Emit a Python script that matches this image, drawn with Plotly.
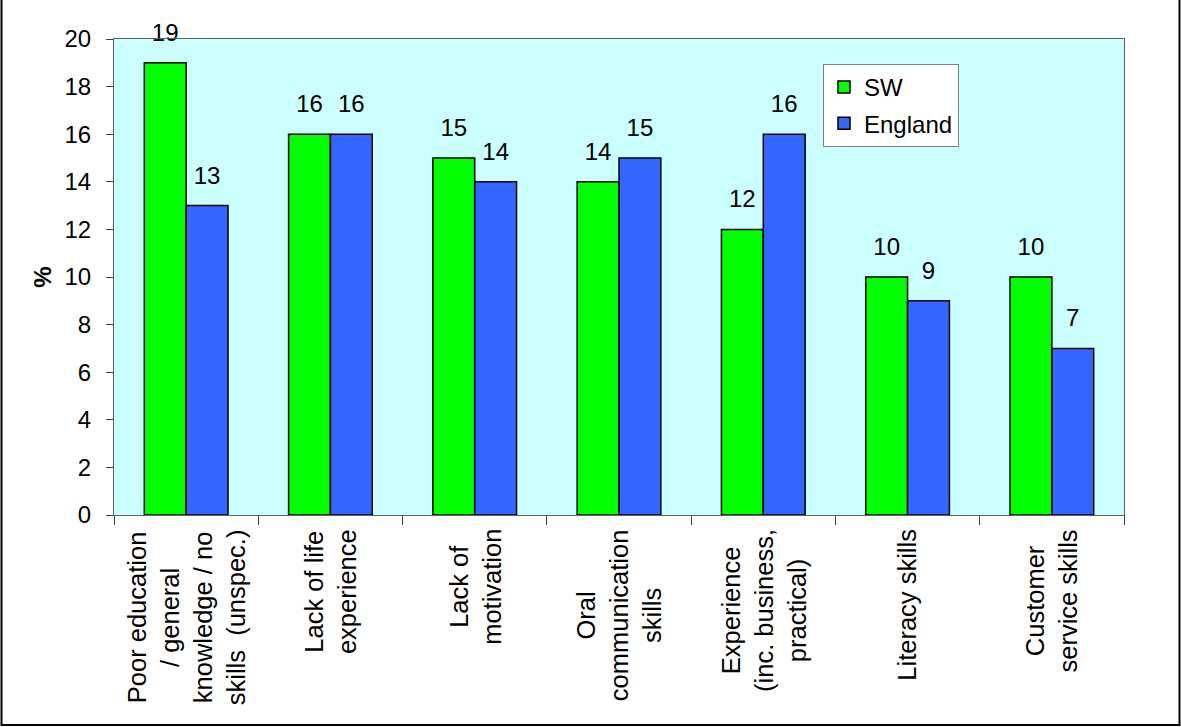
import plotly.graph_objects as go

categories = [
    "Poor education<br>/ general<br>knowledge / no<br>skills  (unspec.)",
    "Lack of life<br>experience",
    "Lack of<br>motivation",
    "Oral<br>communication<br>skills",
    "Experience<br>(inc. business,<br>practical)",
    "Literacy skills",
    "Customer<br>service skills",
]
sw_values = [19, 16, 15, 14, 12, 10, 10]
england_values = [13, 16, 14, 15, 16, 9, 7]
y_ticks = list(range(0, 21, 2))

FONT = "Liberation Sans, Arial, sans-serif"
FS = 24
x_idx = list(range(len(categories)))
boundaries = [i - 0.5 for i in range(len(categories) + 1)]

fig = go.Figure()
fig.add_trace(go.Bar(x=x_idx, y=sw_values, name="SW", marker=dict(color="#00FF00", line=dict(color="black", width=1.5)),
                     offsetgroup="sw", legendgroup="sw"))
fig.add_trace(go.Bar(x=x_idx, y=england_values, name="England", marker=dict(color="#3366FF", line=dict(color="black", width=1.5)),
                     offsetgroup="en", legendgroup="en"))
# value labels
for vals, grp in ((sw_values, "sw"), (england_values, "en")):
    fig.add_trace(go.Scatter(x=x_idx, y=vals, mode="markers+text", text=[str(v) for v in vals],
                             textposition="top center", marker=dict(size=24, color="rgba(0,0,0,0)"),
                             textfont=dict(size=FS, color="black", family=FONT), showlegend=False,
                             hoverinfo="skip", offsetgroup=grp, cliponaxis=False))

# category labels (rotated)
for i, lab in enumerate(categories):
    fig.add_annotation(x=i, xref="x", y=-0.0255, yref="paper", text=lab, textangle=-90,
                       showarrow=False, xanchor="center", yanchor="top", align="center",
                       font=dict(size=25.5, color="black", family=FONT))

L, R, T, B = 114, 57, 39, 212
W, H = 1181, 727
pw, ph = W - L - R, H - T - B
def px(x): return (x - L) / pw
def py(y): return (H - B - y) / ph

fig.add_shape(type="rect", xref="paper", yref="paper", x0=px(1.5), x1=px(1179.5), y0=py(725), y1=py(-2),
              line=dict(color="black", width=2), fillcolor="rgba(0,0,0,0)", layer="below")

fig.update_layout(
    width=W, height=H,
    margin=dict(l=L, r=R, t=T, b=B, autoexpand=False),
    paper_bgcolor="white", plot_bgcolor="#CCFFFF",
    barmode="group", bargap=0.42, bargroupgap=0,
    scattermode="group", scattergap=0.42,
    font=dict(family=FONT, size=FS, color="black"),
    legend=dict(x=px(823), y=py(64), xanchor="left", yanchor="top", bgcolor="white",
                bordercolor="#808080", borderwidth=1, traceorder="grouped", tracegroupgap=2,
                itemwidth=30, font=dict(size=FS, family=FONT)),
    xaxis=dict(range=[-0.5, len(categories) - 0.5], tickmode="array", tickvals=boundaries, showticklabels=False,
               ticks="outside", ticklen=9, tickcolor="#404040",
               showline=True, linecolor="#606060", linewidth=1, mirror=True, showgrid=False, zeroline=False),
    yaxis=dict(range=[0, 20], tickmode="array", tickvals=y_ticks, ticks="outside", ticklen=7, tickcolor="#404040",
               ticklabelstandoff=10, showline=True, linecolor="#606060", linewidth=1, mirror=True,
               showgrid=False, zeroline=False,
               title=dict(text="<b>%</b>", standoff=6, font=dict(size=FS, family=FONT))),
    showlegend=True,
)

fig.write_html("out.html", config={"displayModeBar": False},
               post_script="document.body.style.margin='0';document.body.style.overflow='hidden';")
